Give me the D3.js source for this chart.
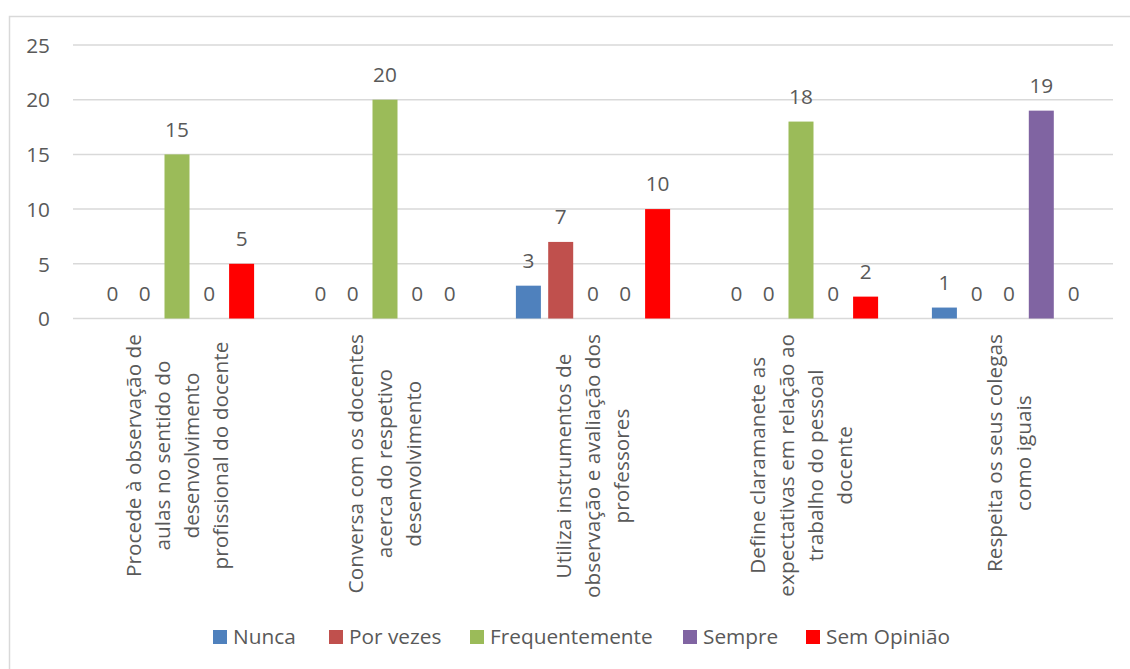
<!DOCTYPE html>
<html><head><meta charset="utf-8">
<script src="https://cdn.jsdelivr.net/npm/d3@7"></script>
<style>body{margin:0;background:#fff}svg{display:block}text{font-family:"Open Sans",sans-serif;fill:#595959}</style>
</head><body>
<svg id="c" width="1130" height="669"></svg>
<script>
const categories = [
  ["Procede à observação de","aulas no sentido do","desenvolvimento","profissional do docente"],
  ["Conversa com os docentes","acerca do respetivo","desenvolvimento"],
  ["Utiliza instrumentos de","observação e avaliação dos","professores"],
  ["Define claramanete as","expectativas em relação ao","trabalho do pessoal","docente"],
  ["Respeita os seus colegas","como iguais"]
];
const seriesNames = ["Nunca","Por vezes","Frequentemente","Sempre","Sem Opinião"];
const seriesColors = ["#4F81BD","#C0504D","#9BBB59","#8064A2","#FF0000"];
const nunca = [0,0,3,0,1];
const porVezes = [0,0,7,0,0];
const frequentemente = [15,20,0,18,0];
const sempre = [0,0,0,0,19];
const semOpiniao = [5,0,10,2,0];
const yTicks = [0,5,10,15,20,25];

const values = [nunca,porVezes,frequentemente,sempre,semOpiniao];
const svg = d3.select("#c");
const fs = 20.8;

svg.append("rect").attr("x",9.5).attr("y",16.5).attr("width",1200).attr("height",800)
  .attr("fill","none").attr("stroke","#D9D9D9").attr("stroke-width",1.5);

const x0 = d3.scaleBand().domain(d3.range(categories.length)).range([73,1113]);
const groupW = 154.2;
const x1 = d3.scaleBand().domain(seriesNames).range([-groupW/2, groupW/2]).paddingInner(0.226);
const y = d3.scaleLinear().domain([0,25]).range([318.5,45]);

svg.append("g").selectAll("line").data(yTicks).join("line")
  .attr("x1",73).attr("x2",1113).attr("y1",d=>y(d)).attr("y2",d=>y(d))
  .attr("stroke","#D9D9D9").attr("stroke-width",1.5);

const yAxis = d3.axisLeft(y).tickValues(yTicks).tickSize(0).tickPadding(0);
const ya = svg.append("g").attr("transform","translate(50,0)").call(yAxis);
ya.select(".domain").remove();
ya.selectAll("text").style("font-family","'Open Sans',sans-serif").attr("font-size",fs).attr("fill","#595959").attr("dy","0.35em");

seriesNames.forEach((s,si)=>{
  const gs = svg.append("g");
  gs.selectAll("rect").data(values[si]).join("rect")
    .attr("x",(d,i)=>x0(i)+x0.bandwidth()/2+x1(s))
    .attr("width",x1.bandwidth())
    .attr("y",d=>y(d)).attr("height",d=>y(0)-y(d))
    .attr("fill",seriesColors[si]);
  gs.selectAll("text").data(values[si]).join("text")
    .attr("x",(d,i)=>x0(i)+x0.bandwidth()/2+x1(s)+x1.bandwidth()/2)
    .attr("y",d=>y(d)-25).attr("dy","0.35em").attr("text-anchor","middle").attr("font-size",fs)
    .text(d=>d);
});

// category labels
categories.forEach((lines,i)=>{
  const cx = x0(i)+x0.bandwidth()/2;
  const lg = svg.append("g");
  const texts = lines.map(l=>lg.append("text").attr("font-size",fs).attr("text-anchor","middle").text(l));
  const maxLen = d3.max(texts,t=>t.node().getComputedTextLength());
  const cy = 334 + maxLen/2;
  const n = lines.length, sp = 29;
  texts.forEach((t,k)=>{
    const lx = cx + (k-(n-1)/2)*sp;
    t.attr("transform",`translate(${lx},${cy}) rotate(-90)`).attr("dy","0.35em");
  });
});

// legend
const legX = [213,329,470,683,806];
const lg = svg.append("g");
seriesNames.forEach((s,i)=>{
  lg.append("rect").attr("x",legX[i]).attr("y",630).attr("width",14).attr("height",14).attr("fill",seriesColors[i]);
  lg.append("text").attr("x",legX[i]+20).attr("y",637).attr("dy","0.35em").attr("font-size",fs).text(s);
});
</script>
</body></html>
